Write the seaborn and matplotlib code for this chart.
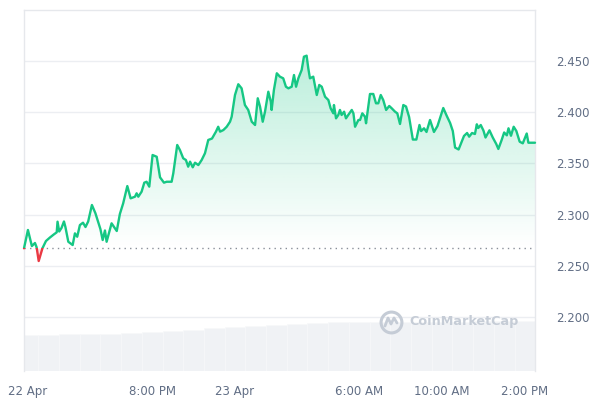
import numpy as np
import pandas as pd
import matplotlib
matplotlib.use("Agg")
import matplotlib.pyplot as plt
import seaborn as sns
from matplotlib.patches import Rectangle, PathPatch
from matplotlib.lines import Line2D
from matplotlib.path import Path

# ---------------- data ----------------
# time in hours since 22 Apr 00:00
hours = [13.81, 14.00, 14.19, 14.34, 14.42, 14.52, 14.70, 14.87, 15.06, 15.26,
         15.39, 15.43, 15.51, 15.62, 15.74, 15.81, 15.95, 16.16, 16.27, 16.38,
         16.51, 16.66, 16.78, 16.91, 17.09, 17.26, 17.50, 17.61, 17.72, 17.80,
         18.04, 18.29, 18.44, 18.60, 18.80, 18.96, 19.17, 19.25, 19.33, 19.49,
         19.62, 19.73, 19.86, 20.02, 20.22, 20.38, 20.57, 20.70, 20.94, 21.02,
         21.21, 21.34, 21.50, 21.63, 21.74, 21.83, 21.96, 22.07, 22.23, 22.39,
         22.55, 22.71, 22.89, 23.08, 23.19, 23.28, 23.44, 23.60, 23.76, 23.84,
         24.00, 24.16, 24.32, 24.48, 24.64, 24.81, 24.97, 25.10, 25.21, 25.34,
         25.45, 25.61, 25.73, 25.77, 25.88, 26.02, 26.17, 26.33, 26.46, 26.58,
         26.74, 26.85, 26.95, 27.06, 27.22, 27.33, 27.46, 27.54, 27.62, 27.78,
         27.95, 28.07, 28.19, 28.35, 28.51, 28.62, 28.75, 28.78, 28.88, 28.99,
         29.07, 29.15, 29.27, 29.36, 29.47, 29.64, 29.72, 29.80, 29.96, 30.04,
         30.15, 30.28, 30.33, 30.52, 30.68, 30.81, 30.92, 31.04, 31.16, 31.30,
         31.45, 31.57, 31.73, 31.84, 31.97, 32.13, 32.26, 32.41, 32.59, 32.76,
         32.91, 32.99, 33.13, 33.25, 33.42, 33.61, 33.78, 34.06, 34.23, 34.39,
         34.52, 34.63, 34.80, 34.92, 35.06, 35.21, 35.31, 35.45, 35.59, 35.68,
         35.75, 35.87, 36.00, 36.10, 36.29, 36.45, 36.62, 36.72, 36.88, 37.00,
         37.13, 37.21, 37.33, 37.46, 37.59, 37.75, 37.90, 38.09, 38.17, 38.49]

prices = [2.2671, 2.2850, 2.2693, 2.2723, 2.2681, 2.2547, 2.2671, 2.2742, 2.2776, 2.2808,
          2.2827, 2.2931, 2.2835, 2.2869, 2.2933, 2.2879, 2.2735, 2.2703, 2.2817, 2.2784,
          2.2898, 2.2921, 2.2879, 2.2933, 2.3094, 2.3013, 2.2859, 2.2752, 2.2845, 2.2735,
          2.2915, 2.2840, 2.3006, 2.3110, 2.3279, 2.3159, 2.3175, 2.3208, 2.3175, 2.3224,
          2.3312, 2.3321, 2.3273, 2.3582, 2.3565, 2.3364, 2.3312, 2.3321, 2.3321, 2.3403,
          2.3680, 2.3631, 2.3550, 2.3533, 2.3468, 2.3517, 2.3462, 2.3507, 2.3484, 2.3533,
          2.3599, 2.3729, 2.3743, 2.3810, 2.3858, 2.3810, 2.3826, 2.3858, 2.3907, 2.3956,
          2.4168, 2.4273, 2.4233, 2.4070, 2.4022, 2.3907, 2.3875, 2.4136, 2.4054, 2.3907,
          2.4005, 2.4200, 2.4103, 2.4022, 2.4217, 2.4380, 2.4347, 2.4331, 2.4249, 2.4233,
          2.4249, 2.4363, 2.4249, 2.4331, 2.4412, 2.4542, 2.4552, 2.4429, 2.4331, 2.4347,
          2.4168, 2.4266, 2.4249, 2.4151, 2.4119, 2.4038, 2.3989, 2.4070, 2.3940, 2.3973,
          2.4022, 2.3973, 2.4005, 2.3940, 2.3973, 2.4022, 2.3989, 2.3858, 2.3924, 2.3924,
          2.3989, 2.3956, 2.3892, 2.4178, 2.4178, 2.4087, 2.4087, 2.4168, 2.4119, 2.4022,
          2.4061, 2.4038, 2.4005, 2.3989, 2.3885, 2.4070, 2.4056, 2.3953, 2.3733, 2.3733,
          2.3875, 2.3816, 2.3843, 2.3807, 2.3924, 2.3807, 2.3865, 2.4041, 2.3963, 2.3895,
          2.3816, 2.3655, 2.3636, 2.3696, 2.3768, 2.3797, 2.3761, 2.3797, 2.3787, 2.3882,
          2.3846, 2.3875, 2.3821, 2.3753, 2.3823, 2.3753, 2.3689, 2.3641, 2.3729, 2.3802,
          2.3774, 2.3843, 2.3770, 2.3858, 2.3816, 2.3712, 2.3696, 2.3792, 2.3702, 2.3702]

baseline_price = 2.2671

# hourly volume (millions, approx.)
vol_hours = [14, 15, 16, 17, 18, 19, 20, 21, 22, 23, 24, 25, 26,
             27, 28, 29, 30, 31, 32, 33, 34, 35, 36, 37, 38]
volumes = [360, 363, 367, 370, 375, 382, 395, 405, 415, 430, 445, 455, 465,
           475, 483, 488, 490, 492, 493, 494, 495, 495, 496, 496, 497]

tick_hours = [14, 20, 24, 30, 34, 38]
tick_labels = ["22 Apr", "8:00 PM", "23 Apr", "6:00 AM", "10:00 AM", "2:00 PM"]
price_ticks = [2.200, 2.250, 2.300, 2.350, 2.400, 2.450]

# ---------------- style ----------------
GREEN = "#16c784"
RED = "#ea3943"
GRID = "#eceef2"
TXT = "#616e85"

sns.set_theme(style="white")
plt.rcParams["font.family"] = ["DejaVu Sans"]

fig = plt.figure(figsize=(6, 4), dpi=100)
rect = [24 / 600, 1 - 371 / 400, (535 - 24) / 600, (371 - 10) / 400]

# volume axes (behind)
vax = fig.add_axes(rect, zorder=0)
vax.bar(vol_hours, volumes, width=1.0, color="#f0f2f5", edgecolor="#f7f8fa",
        linewidth=0.5)
vax.set_xlim(13.81, 38.49)
vax.set_ylim(0, 3610)
vax.axis("off")

# price axes
ax = fig.add_axes(rect, zorder=1)
ax.patch.set_visible(False)
df = pd.DataFrame({"hour": hours, "price": prices})

ymin, ymax = 2.1473, 2.4998
ax.set_xlim(13.81, 38.49)
ax.set_ylim(ymin, ymax)

# gradient fill above baseline
x = np.array(hours)
y = np.array(prices)
poly = ax.fill_between(x, y, baseline_price, where=y >= baseline_price,
                       interpolate=True, color="none", lw=0)
grad = np.zeros((256, 1, 4))
g = matplotlib.colors.to_rgba(GREEN)
grad[:, 0, 0:3] = g[:3]
grad[:, 0, 3] = np.linspace(0.30, 0.0, 256)
top = 2.46
im = ax.imshow(grad, extent=[13.81, 38.49, baseline_price, top], aspect="auto",
               origin="upper", zorder=1)
paths = poly.get_paths()
verts = np.concatenate([p.vertices for p in paths])
codes = np.concatenate([p.codes if p.codes is not None else
                        np.full(len(p.vertices), Path.LINETO) for p in paths])
clip = PathPatch(Path(verts, codes), transform=ax.transData, facecolor="none",
                 edgecolor="none")
ax.add_patch(clip)
im.set_clip_path(clip)

# red fill below baseline
ax.fill_between(x, y, baseline_price, where=y < baseline_price,
                interpolate=True, color=RED, alpha=0.12, lw=0, zorder=1)

# baseline
ax.axhline(baseline_price, color="#8a8f99", lw=1.0, ls=(0, (1, 3)), zorder=2)

# price line: green above baseline, red below
sns.lineplot(data=df, x="hour", y="price", ax=ax, color=GREEN, lw=1.7,
             estimator=None, sort=False, zorder=3)
sns.lineplot(data=df, x="hour", y="price", ax=ax, color=RED, lw=1.7,
             estimator=None, sort=False, zorder=4)
lines = ax.get_lines()
l_green, l_red = lines[-2], lines[-1]
above = Rectangle((13.0, baseline_price), 30, 1.0, transform=ax.transData)
below = Rectangle((13.0, baseline_price - 1.0), 30, 1.0, transform=ax.transData)
l_green.set_clip_path(above)
l_red.set_clip_path(below)
for l in (l_green, l_red):
    l.set_solid_joinstyle("round")
    l.set_solid_capstyle("round")

# grid & spines
for p in price_ticks:
    ax.axhline(p, color=GRID, lw=1.0, zorder=0.5)
for side in ["left", "right", "top"]:
    ax.spines[side].set_visible(True)
    ax.spines[side].set_color("#e6e8ec")
    ax.spines[side].set_linewidth(1.0)
ax.spines["bottom"].set_visible(False)

ax.yaxis.tick_right()
ax.set_yticks(price_ticks)
ax.set_yticklabels([f"{p:.3f}" for p in price_ticks])
ax.set_xticks(tick_hours)
ax.set_xticklabels(tick_labels)
ax.tick_params(axis="y", length=0, pad=15, labelsize=8.5, colors=TXT)
ax.tick_params(axis="x", length=0, pad=10, labelsize=8.5, colors=TXT)
ax.set_xlabel("")
ax.set_ylabel("")
ax.grid(False)

# watermark
WM = "#c5ccd6"
cx, cy = 391 / 600, 1 - 322 / 400
fig.add_artist(Line2D([cx], [cy], marker="o", markersize=15, mfc="none",
                      mec=WM, mew=2.2, transform=fig.transFigure, zorder=5))
mx = np.array([-6, -3, 0, 3, 6]) / 600 + cx
my = np.array([-4, 4, -2, 4, -1]) / 400 + cy
fig.add_artist(Line2D(mx, my, color=WM, lw=2.0, transform=fig.transFigure,
                      zorder=5, solid_joinstyle="round"))
fig.text(409 / 600, cy, "CoinMarketCap", color=WM, fontsize=9.2,
         fontweight="semibold", va="center", ha="left", zorder=5)

fig.savefig("out.png", dpi=100)
